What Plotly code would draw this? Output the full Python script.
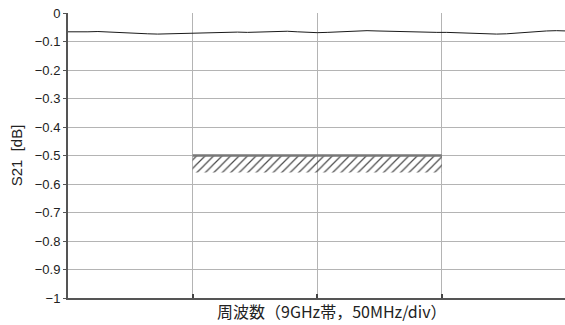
import plotly.graph_objects as go

# Frequency axis in divisions (50 MHz/div), measured S21 in dB
freq_div = [0.00, 0.08, 0.16, 0.24, 0.32, 0.40, 0.48, 0.56, 0.64, 0.72,
            0.80, 0.88, 0.96, 1.04, 1.12, 1.20, 1.28, 1.36, 1.44, 1.52,
            1.60, 1.68, 1.76, 1.84, 1.92, 2.00, 2.08, 2.16, 2.24, 2.32,
            2.40, 2.48, 2.56, 2.64, 2.72, 2.80, 2.88, 2.96, 3.04, 3.12,
            3.20, 3.28, 3.36, 3.44, 3.52, 3.60, 3.68, 3.76, 3.84, 3.92, 4.00]
s21_db = [-0.066, -0.067, -0.066, -0.065, -0.067, -0.068, -0.070, -0.072, -0.073, -0.074,
          -0.073, -0.072, -0.070, -0.069, -0.068, -0.069, -0.068, -0.067, -0.068, -0.067,
          -0.066, -0.065, -0.064, -0.066, -0.068, -0.069, -0.068, -0.066, -0.065, -0.063,
          -0.062, -0.063, -0.064, -0.066, -0.067, -0.068, -0.067, -0.068, -0.068, -0.069,
          -0.071, -0.073, -0.074, -0.074, -0.073, -0.070, -0.067, -0.064, -0.063, -0.062, -0.063]

# Specification band (hatched) over the middle two divisions
spec_x = [1, 3]
spec_top = -0.50
spec_bottom = -0.56

y_ticks = [0, -0.1, -0.2, -0.3, -0.4, -0.5, -0.6, -0.7, -0.8, -0.9, -1]
y_labels = ["0", "−0.1", "−0.2", "−0.3", "−0.4", "−0.5", "−0.6", "−0.7", "−0.8", "−0.9", "−1"]
x_grid = [1, 2, 3]

fig = go.Figure()

fig.add_trace(go.Scatter(
    x=[spec_x[0], spec_x[1], spec_x[1], spec_x[0], spec_x[0]],
    y=[spec_top, spec_top, spec_bottom, spec_bottom, spec_top],
    mode="lines", line=dict(width=0), fill="toself",
    fillcolor="rgba(0,0,0,0)",
    fillpattern=dict(shape="/", fgcolor="#4a4a4a", fgopacity=1,
                     bgcolor="rgba(0,0,0,0)", size=6, solidity=0.2),
    hoverinfo="skip", showlegend=False,
))
fig.add_trace(go.Scatter(
    x=spec_x, y=[spec_top, spec_top], mode="lines",
    line=dict(color="#777777", width=2.5), showlegend=False,
))
fig.add_trace(go.Scatter(
    x=freq_div, y=s21_db, mode="lines",
    line=dict(color="#1a1a1a", width=1), showlegend=False,
))

fig.update_layout(
    width=565, height=325,
    margin=dict(l=68, r=0, t=13, b=27),
    paper_bgcolor="white", plot_bgcolor="white",
    font=dict(family="Liberation Sans, Arial, sans-serif", size=13, color="#222222"),
    xaxis=dict(
        range=[0, 497 / 124.6],
        tickvals=x_grid, showticklabels=False,
        ticks="inside", ticklen=4, tickcolor="#444444", tickwidth=1.5,
        showgrid=True, gridcolor="#b4b4b4", gridwidth=1,
        showline=True, linecolor="#555555", linewidth=2,
        zeroline=False,
    ),
    yaxis=dict(
        range=[-1, 0],
        tickvals=y_ticks, ticktext=y_labels,
        ticks="outside", ticklen=3, tickcolor="#555555",
        showgrid=True, gridcolor="#b4b4b4", gridwidth=1,
        showline=True, linecolor="#555555", linewidth=2,
        zeroline=False,
        tickfont=dict(size=13),
        title=dict(text="S21\u00a0\u00a0[dB]", standoff=8, font=dict(size=15)),
    ),
    annotations=[dict(
        text="周波数（9GHz帯，50MHz/div）",
        xref="paper", yref="paper", x=(332 - 68) / 497, y=0,
        xanchor="center", yanchor="middle", yshift=-13, showarrow=False,
        font=dict(family="Noto Sans CJK JP", size=16, color="#222222"),
    )],
)

fig.write_html("out.html")
